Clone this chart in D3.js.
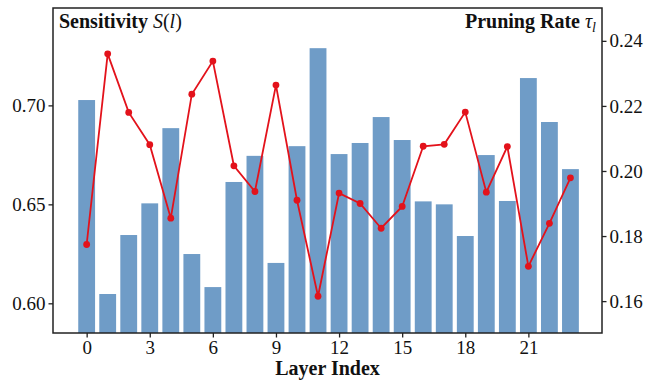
<!DOCTYPE html>
<html>
  <head>
    <meta charset="UTF-8" />
    <script src="https://cdn.jsdelivr.net/npm/d3@7"></script>
    <style>
      body { margin: 0; background: #fff; }
    </style>
  </head>
  <body>
    <svg></svg>
    <script>
      // data
      const layers = d3.range(24)
      const sensitivity = [
        0.7027, 0.6047, 0.6345, 0.6505, 0.6885, 0.6249, 0.6082, 0.6613,
        0.6745, 0.6204, 0.6794, 0.7289, 0.6754, 0.681, 0.6941, 0.6825,
        0.6515, 0.6500, 0.634, 0.6749, 0.6517, 0.7138, 0.6916, 0.6678,
      ]
      const pruningRate = [
        0.1774, 0.236, 0.218, 0.2081, 0.1855, 0.2236, 0.2338, 0.2016,
        0.1937, 0.2264, 0.191, 0.1615, 0.1932, 0.19, 0.1824, 0.1891,
        0.2076, 0.2082, 0.2181, 0.1935, 0.2075, 0.1707, 0.1839, 0.1979,
      ]
      const xTicks = [0, 3, 6, 9, 12, 15, 18, 21]
      const leftTicks = [0.6, 0.65, 0.7]
      const rightTicks = [0.16, 0.18, 0.2, 0.22, 0.24]

      const width = 645
      const height = 380
      const marge = { top: 8, bottom: 47, left: 53, right: 43 }
      const font = "Liberation Serif"

      const svg = d3
        .select("svg")
        .attr("width", width)
        .attr("height", height)
        .attr("font-family", font)

      const x = d3
        .scaleLinear()
        .domain([-1.6, 24.5])
        .range([marge.left, width - marge.right])

      const yL = d3
        .scaleLinear()
        .domain([0.585, 0.7492])
        .range([height - marge.bottom, marge.top])

      const yR = d3
        .scaleLinear()
        .domain([0.1502, 0.2501])
        .range([height - marge.bottom, marge.top])

      const bw = x(0.8) - x(0)

      // bars
      svg
        .append("g")
        .attr("fill", "#6f9cc7")
        .selectAll("rect")
        .data(layers)
        .join("rect")
        .attr("x", (i) => x(i) - bw / 2)
        .attr("width", bw)
        .attr("y", (i) => yL(sensitivity[i]))
        .attr("height", (i) => yL.range()[0] - yL(sensitivity[i]))

      // line
      const line = d3
        .line()
        .x((i) => x(i))
        .y((i) => yR(pruningRate[i]))

      svg
        .append("path")
        .datum(layers)
        .attr("fill", "none")
        .attr("stroke", "#e3121b")
        .attr("stroke-width", 1.8)
        .attr("d", line)

      svg
        .append("g")
        .attr("fill", "#e3121b")
        .selectAll("circle")
        .data(layers)
        .join("circle")
        .attr("cx", (i) => x(i))
        .attr("cy", (i) => yR(pruningRate[i]))
        .attr("r", 3.4)

      // frame
      svg
        .append("rect")
        .attr("x", marge.left)
        .attr("y", marge.top)
        .attr("width", width - marge.left - marge.right)
        .attr("height", height - marge.top - marge.bottom)
        .attr("fill", "none")
        .attr("stroke", "#222")
        .attr("stroke-width", 1.5)

      function styleAxis(g) {
        g.attr("font-family", font).attr("font-size", 19)
        g.select(".domain").remove()
        g.selectAll(".tick line").attr("stroke", "#222").attr("stroke-width", 1.3)
        g.selectAll(".tick text").attr("fill", "#111")
      }

      svg
        .append("g")
        .attr("transform", `translate(0,${height - marge.bottom})`)
        .call(d3.axisBottom(x).tickValues(xTicks).tickSize(4.5).tickPadding(3))
        .call(styleAxis)

      svg
        .append("g")
        .attr("transform", `translate(${marge.left},0)`)
        .call(
          d3.axisLeft(yL).tickValues(leftTicks).tickFormat(d3.format(".2f")).tickSize(4.5).tickPadding(3)
        )
        .call(styleAxis)

      svg
        .append("g")
        .attr("transform", `translate(${width - marge.right},0)`)
        .call(
          d3.axisRight(yR).tickValues(rightTicks).tickFormat(d3.format(".2f")).tickSize(4.5).tickPadding(3)
        )
        .call(styleAxis)

      // labels
      svg
        .append("text")
        .attr("x", (marge.left + width - marge.right) / 2)
        .attr("y", 375)
        .attr("text-anchor", "middle")
        .attr("font-weight", "bold")
        .attr("font-size", 20)
        .attr("fill", "#111")
        .text("Layer Index")

      const t1 = svg
        .append("text")
        .attr("x", marge.left + 6)
        .attr("y", 28)
        .attr("font-size", 20)
        .attr("fill", "#111")
      t1.append("tspan").attr("font-weight", "bold").text("Sensitivity ")
      t1.append("tspan").attr("font-style", "italic").text("S")
      t1.append("tspan").text("(")
      t1.append("tspan").attr("font-style", "italic").text("l")
      t1.append("tspan").text(")")

      const t2 = svg
        .append("text")
        .attr("x", width - marge.right - 6)
        .attr("y", 28)
        .attr("text-anchor", "end")
        .attr("font-size", 20)
        .attr("fill", "#111")
      t2.append("tspan").attr("font-weight", "bold").text("Pruning Rate ")
      t2.append("tspan").attr("font-style", "italic").text("τ")
      t2.append("tspan")
        .attr("font-style", "italic")
        .attr("font-size", 14)
        .attr("dy", 4)
        .text("l")
    </script>
  </body>
</html>
